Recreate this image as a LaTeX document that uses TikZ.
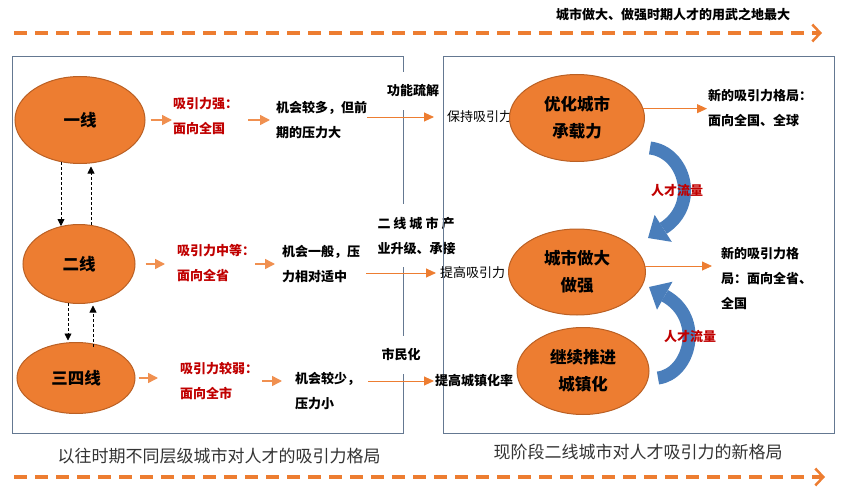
\documentclass[tikz,border=0pt]{standalone}
\usepackage{fontspec}
\setmainfont{Noto Sans CJK SC}
\usetikzlibrary{shapes.geometric,arrows.meta,calc}
\definecolor{chengse}{RGB}{237,125,49}
\definecolor{chengbian}{RGB}{186,96,36}
\definecolor{hongzi}{RGB}{192,0,0}
\definecolor{kuangxian}{RGB}{100,120,145}
\definecolor{lanse}{RGB}{74,126,187}
\definecolor{huizi}{RGB}{51,51,51}

\begin{document}
\begin{tikzpicture}[x=1pt,y=-1pt]
    \tikzstyle{city} = [ellipse, draw=chengbian, line width=1pt, fill=chengse, inner sep=0pt, align=center, font=\fontsize{16.5}{27}\selectfont\bfseries]
    \tikzstyle{redtext} = [anchor=west, align=left, inner sep=0pt, text=hongzi, font=\fontsize{13}{25}\selectfont\bfseries]
    \tikzstyle{blacktext} = [anchor=west, align=left, inner sep=0pt, font=\fontsize{13}{25}\selectfont\bfseries]
    \tikzstyle{plaintext} = [anchor=west, inner sep=0pt, font=\fontsize{13}{16}\selectfont]
    \tikzstyle{gaptext} = [fill=white, inner xsep=3pt, inner ysep=12.5pt, align=left, font=\fontsize{13}{25}\selectfont\bfseries]
    \tikzstyle{caption} = [text=huizi, font=\fontsize{17}{20}\selectfont]
    \tikzstyle{shortarrow} = [draw=chengse!85, line width=1.5pt, -{Triangle[length=10pt,width=10pt]}]
    \tikzstyle{longarrow} = [draw=chengse, line width=0.9pt, -{Triangle[length=10pt,width=9pt]}]
    \tikzstyle{updown} = [draw=black, line width=0.8pt, dash pattern=on 3pt off 2pt, -{Triangle[length=7pt,width=7pt]}]
    \tikzstyle{timeline} = [draw=chengse, line width=3.5pt, dash pattern=on 13pt off 8pt, -{Straight Barb[length=8pt,width=17pt,line width=2.5pt]}]
    \tikzstyle{flow} = [draw=lanse, line width=13pt, -{Triangle[length=18pt,width=32pt,line width=0pt]}]
    \tikzstyle{flowtext} = [text=hongzi, inner sep=0pt, font=\fontsize{13}{16}\selectfont\bfseries]

    \useasboundingbox (0,0) rectangle (841,487);

    % time lines
    \node (zuida) [font=\fontsize{13}{16}\selectfont\bfseries] at (673,15) {城市做大、做强时期人才的用武之地最大};
    \coordinate (shang0) at (14,33);
    \coordinate (shang1) at (822,33);
    \coordinate (xia0) at (14,477);
    \coordinate (xia1) at (825,477);
    \draw [timeline] (shang0) -- (shang1);
    \draw [timeline] (xia0) -- (xia1);

    % left frame
    \draw [kuangxian, line width=1pt] (12,57) rectangle (403,433);

    \node (yixian) [city, minimum width=130pt, minimum height=87pt] at (80,120) {一线};
    \node (erxian) [city, minimum width=112pt, minimum height=79pt] at (79,264) {二线};
    \node (sansi) [city, minimum width=118pt, minimum height=71pt] at (76,378) {三四线};

    \node (qiang) [redtext] at (173,116) {吸引力强：\\面向全国};
    \node (duo) [blacktext] at (276,120) {机会较多，但前\\期的压力大};
    \node (zhong) [redtext] at (177,263) {吸引力中等：\\面向全省};
    \node (yiban) [blacktext] at (282,264) {机会一般，压\\力相对适中};
    \node (ruo) [redtext] at (180,381) {吸引力较弱：\\面向全市};
    \node (shao) [blacktext] at (295,391) {机会较少，\\压力小};

    \draw [updown] ($(yixian.south)+(-19,-2)$) -- ($(erxian.north)+(-18,2)$);
    \draw [updown] ($(erxian.north)+(12,1)$) -- ($(yixian.south)+(11,2.5)$);
    \draw [updown] ($(erxian.south)+(-11,-1)$) -- ($(sansi.north)+(-8,-1.5)$);
    \draw [updown] ($(sansi.north)+(17,4.5)$) -- ($(erxian.south)+(14,1.5)$);

    \draw [shortarrow, shorten <=5pt, shorten >=1pt] (yixian.east) -- (yixian.east -| qiang.west);
    \draw [shortarrow, shorten <=10pt, shorten >=6pt] (qiang.east |- duo.west) -- (duo.west);
    \draw [shortarrow, shorten <=10pt, shorten >=12pt] (erxian.east) -- (erxian.east -| zhong.west);
    \draw [shortarrow, shorten >=7pt] (zhong.east |- yiban.west) -- (yiban.west);
    \draw [shortarrow, shorten <=3pt, shorten >=22pt] (sansi.east) -- (sansi.east -| ruo.west);
    \draw [shortarrow, shorten <=4pt, shorten >=13pt] (ruo.east) -- (ruo.east -| shao.west);

    % middle labels over the frame
    \node (shujie) [gaptext] at (413,91) {功能疏解};
    \node (chanye) [gaptext] at (416.5,235.5) {\hbox to 77pt{二\hfill 线\hfill 城\hfill 市\hfill 产}\\业升级、承接};
    \node (shimin) [gaptext] at (401,355) {市民化};

    % right frame
    \draw [kuangxian, line width=1pt] (443,57) rectangle (834,433);

    \node (baochi) [plaintext] at (447,117) {保持吸引力};
    \node (tigao) [plaintext] at (440,273) {提高吸引力};
    \node (chengzhen) [plaintext, font=\fontsize{13}{16}\selectfont\bfseries] at (435,381) {提高城镇化率};

    \node (youhua) [city, minimum width=135pt, minimum height=87pt] at (577,118) {优化城市\\承载力};
    \node (zuoda) [city, minimum width=137pt, minimum height=86pt] at (577,272) {城市做大\\做强};
    \node (tuijin) [city, minimum width=132pt, minimum height=87pt] at (583,371) {继续推进\\城镇化};

    \node (quanqiu) [blacktext] at (708,108.5) {新的吸引力格局：\\面向全国、全球};
    \node (quansheng) [blacktext] at (721,278) {新的吸引力格\\局：面向全省、\\全国};

    \draw [longarrow, shorten >=13pt] (duo.east |- baochi.west) -- (baochi.west);
    \draw [longarrow, shorten <=6pt, shorten >=4pt] (yiban.east |- tigao.west) -- (tigao.west);
    \draw [longarrow, shorten <=8pt, shorten >=1pt] (shao.east |- chengzhen.west) -- (chengzhen.west);
    \draw [longarrow, shorten >=1pt] (youhua.8) -- (youhua.8 -| quanqiu.west);
    \draw [longarrow, shorten >=9pt] (zuoda.5) -- (zuoda.5 -| quansheng.west);

    % talent flows
    \draw [flow] ($(youhua)+(73,30)$) .. controls ($(youhua)+(108,34)$) and ($(zuoda)+(123,-67)$) .. ($(zuoda)+(71,-34)$);
    \draw [flow] ($(tuijin)+(75,7)$) .. controls ($(tuijin)+(107,3)$) and ($(zuoda)+(128,46)$) .. ($(zuoda)+(72,15)$);
    \node (liu1) [flowtext] at (677,191) {人才流量};
    \node (liu2) [flowtext] at (690,337) {人才流量};

    % captions
    \node (jiugeju) [caption] at (219,456) {以往时期不同层级城市对人才的吸引力格局};
    \node (xingeju) [caption] at (638,452) {现阶段二线城市对人才吸引力的新格局};
\end{tikzpicture}
\end{document}
